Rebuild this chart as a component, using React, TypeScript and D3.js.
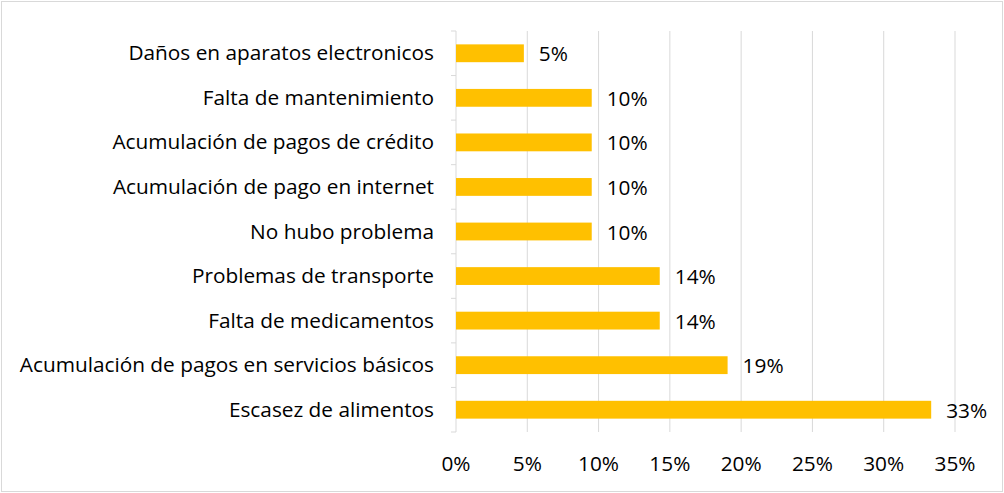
import React from "react";
import * as d3 from "d3";

const categories = [
  "Daños en aparatos electronicos",
  "Falta de mantenimiento",
  "Acumulación de pagos de crédito",
  "Acumulación de pago en internet",
  "No hubo problema",
  "Problemas de transporte",
  "Falta de medicamentos",
  "Acumulación de pagos en servicios básicos",
  "Escasez de alimentos",
];
const values = [0.0476, 0.0952, 0.0952, 0.0952, 0.0952, 0.1429, 0.1429, 0.1905, 0.3333];
const xTicks = [0, 0.05, 0.1, 0.15, 0.2, 0.25, 0.3, 0.35];

const W = 1004;
const H = 493;
const FONT = "'Open Sans', sans-serif";
const FS = 20.8;

export default function App() {
  const x = d3.scaleLinear().domain([0, 0.35]).range([456, 955]);
  const y = d3.scaleBand<string>().domain(categories).range([31, 432]).paddingInner(0.6).paddingOuter(0.3);
  const band = d3.scaleBand<string>().domain(categories).range([31, 432]);
  const pct = d3.format(".0%");
  return (
    <svg width={W} height={H} style={{ position: "fixed", left: 0, top: 0, background: "#fff" }} fontFamily={FONT}>
      <rect x={1.5} y={1.5} width={W - 3} height={H - 3} fill="#fff" stroke="#d9d9d9" />
      {xTicks.slice(1).map((t) => (
        <line key={t} x1={x(t)} x2={x(t)} y1={31} y2={432} stroke="#d9d9d9" strokeWidth={1} />
      ))}
      <line x1={x(0)} x2={x(0)} y1={31} y2={432} stroke="#d9d9d9" strokeWidth={1} />
      {categories.map((c) => (
        <line key={"t" + c} x1={451} x2={456} y1={band(c)!} y2={band(c)!} stroke="#d9d9d9" />
      ))}
      <line x1={451} x2={456} y1={432} y2={432} stroke="#d9d9d9" />
      {categories.map((c, i) => (
        <g key={c}>
          <rect x={x(0)} y={y(c)!} width={x(values[i]) - x(0)} height={y.bandwidth()} fill="#ffc000" />
          <text x={x(values[i]) + 15} y={y(c)! + y.bandwidth() / 2 + 2.5} dominantBaseline="middle" fontSize={FS} fill="#000">
            {pct(values[i])}
          </text>
          <text x={434} y={y(c)! + y.bandwidth() / 2 + 1.5} dominantBaseline="middle" textAnchor="end" fontSize={FS} fill="#000">
            {c}
          </text>
        </g>
      ))}
      {xTicks.map((t) => (
        <text key={"l" + t} x={x(t)} y={465} dominantBaseline="middle" textAnchor="middle" fontSize={FS} fill="#000">
          {pct(t)}
        </text>
      ))}
    </svg>
  );
}
